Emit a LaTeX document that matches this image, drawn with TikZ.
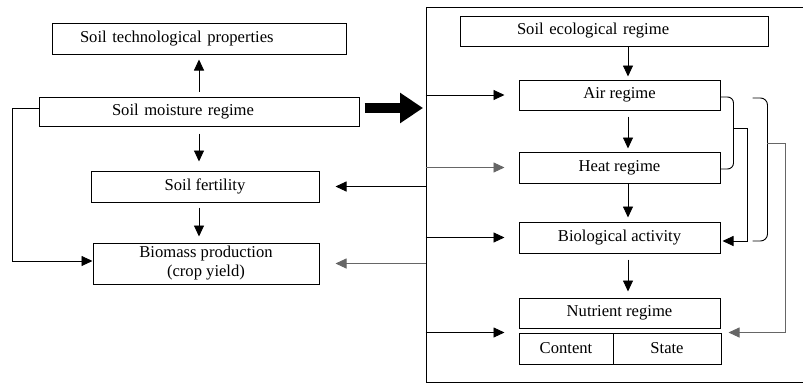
\documentclass[tikz,border=0pt]{standalone}
\usepackage{fontspec}
\setmainfont{Liberation Serif}
\usetikzlibrary{arrows.meta}
\begin{document}
\begin{tikzpicture}[x=1pt,y=-1pt,
	box/.style={draw,line width=1pt,inner sep=0pt,minimum height=31pt,font=\fontsize{16.6}{19}\selectfont,align=center},
	arr/.style={-{Triangle[length=11pt,width=10pt]},line width=0.9pt},
	lite/.style={draw=black!60},
	fat/.style={line width=10pt,-{Triangle[length=23pt,width=29pt]}}]
	\useasboundingbox (0,0) rectangle (803,383);
	\coordinate (lx) at (199,0);
	\coordinate (rx) at (628,0);
	
	% left column
	\node[box,minimum width=294pt,text width=238pt,inner xsep=28pt,align=left] (tech) at (199,38.5) {Soil technological properties};
	\node[box,minimum width=320pt,minimum height=29pt,text width=174pt,inner xsep=73pt,align=left] (moist) at (199,111.5) {Soil moisture regime};
	\node[box,minimum width=228pt] (fert) at (205,186.5) {Soil fertility};
	\node[box,minimum width=226pt,minimum height=41pt] (biom) at (206,263.5) {Biomass production\\(crop yield)};
	
	% right frame
	\node[draw,line width=1pt,inner sep=0pt,minimum width=380pt,minimum height=375.5pt] (frame) at (616,194.75) {};
	\node[box,minimum width=308pt,minimum height=30pt,text width=194pt,inner xsep=57pt,align=left] (eco) at (614,31) {Soil ecological regime};
	\node[box,minimum width=201pt,minimum height=30pt] (air) at (619.5,95) {Air regime};
	\node[box,minimum width=201pt] (heat) at (619.5,167.5) {Heat regime};
	\node[box,minimum width=201pt] (bio) at (619.5,237.5) {Biological activity};
	\node[box,minimum width=201pt,minimum height=30pt] (nutr) at (619.5,313) {Nutrient regime};
	\node[box,minimum width=94pt] (content) at (566,348.5) {Content};
	\node[box,minimum width=108pt] (state) at (667,348.5) {State};
	
	% vertical arrows
	\draw[arr,shorten <=5pt,shorten >=5pt] (moist.north -| lx) -- (tech.south -| lx);
	\foreach \a/\b/\s/\e in {moist/fert/7/9,fert/biom/5/6}
	\draw[arr,shorten <=\s pt,shorten >=\e pt] (\a.south -| lx) -- (\b.north -| lx);
	\foreach \a/\b/\s/\e in {eco/air/0/3,air/heat/6/3,heat/bio/0/4,bio/nutr/6/6}
	\draw[arr,shorten <=\s pt,shorten >=\e pt] (\a.south -| rx) -- (\b.north -| rx);
	
	% side links
	\draw[arr] ([yshift=3.5pt]moist.west) -- ++(-26,0) |- ([yshift=2.5pt]biom.west);
	\coordinate (bigtip) at (423,108);
	\draw[fat] ([xshift=5pt,yshift=3.5pt]moist.east) -- (bigtip);
	\draw[arr,shorten >=16pt] (frame.west |- fert) -- (fert);
	\draw[arr,lite,shorten >=16pt] (frame.west |- biom) -- (biom);
	\foreach \n/\c in {air/black,heat/black!60,bio/black}
	\draw[arr,draw=\c,shorten >=14pt] (frame.west |- \n) -- (\n);
	\draw[arr,shorten >=14pt] (frame.west |- content.north west) -- (content.north west);
	
	% brackets
	\draw[line width=0.9pt,rounded corners=6pt] ([yshift=-2pt]air.east) -- ++(13,0) |- ([yshift=-1.5pt]heat.east);
	\coordinate (b1) at (733,128);
	\draw[arr,shorten >=2pt] (b1) -- ++(14,0) |- ([yshift=-3.5pt]bio.east);
	\draw[line width=0.9pt,rounded corners=7pt] ([xshift=32pt,yshift=-3pt]air.east) -- ++(15,0) |- ([xshift=32pt,yshift=-3.5pt]bio.east);
	\coordinate (b2) at (767,143);
	\draw[arr,lite] (b2) -- ++(18,0) |- ([xshift=7pt]state.north east);
\end{tikzpicture}
\end{document}
